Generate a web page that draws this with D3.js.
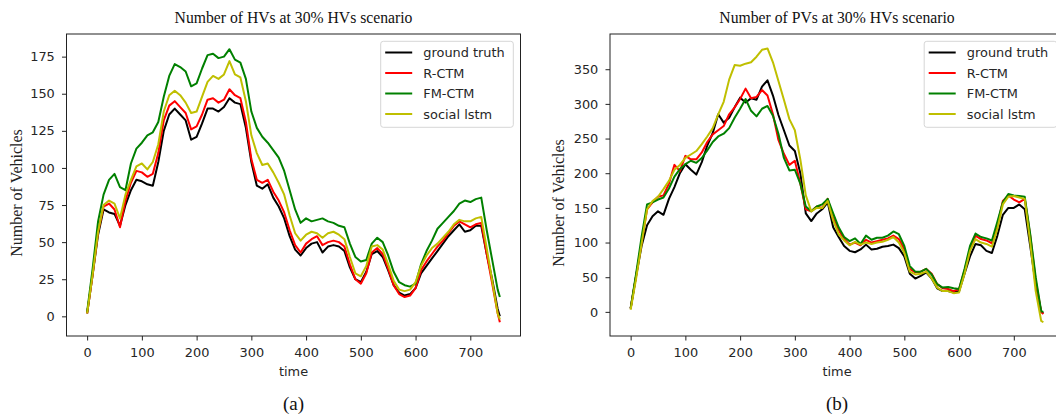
<!DOCTYPE html>
<html><head><meta charset="utf-8">
<script src="https://cdn.jsdelivr.net/npm/d3@7"></script>
<style>html,body{margin:0;padding:0;background:#fff;} svg{display:block;}</style>
</head><body><svg id="chart" width="1056" height="416"></svg>
<script>
// ---- data ----
const time = [0,10,20,30,40,50,60,70,80,90,100,110,120,130,140,150,160,170,180,190,200,210,220,230,240,250,260,270,280,290,300,310,320,330,340,350,360,370,380,390,400,410,420,430,440,450,460,470,480,490,500,510,520,530,540,550,560,570,580,590,600,610,620,630,640,650,660,670,680,690,700,710,720,730,740,750,754];

const seriesNames = ["ground truth", "R-CTM", "FM-CTM", "social lstm"];
const seriesColors = ["#000000", "#ff0000", "#008000", "#bfbf00"];

// Panel (a): Number of HVs
const hvTruth = [2,28,55,72,70,69,61,75,85,92, 91,89,88,104,125,136,140,136,132,119, 121,130,140,140,138,141,147,144,143,127, 104,88,86,89,80,74,66,54,45,41, 46,49,50,43,47,48,47,44,33,25, 23,30,42,44,40,31,21,16,14,15, 19,29,34,39,44,49,54,58,62,57, 58,61,61,42,25,5,0];
const hvRctm = [2,28,57,74,76,72,60,78,90,98, 97,94,96,110,132,142,145,141,137,126, 128,136,146,147,144,146,153,149,147,131, 106,92,90,92,84,78,70,58,48,43, 49,52,54,48,50,51,50,47,35,25, 22,29,43,46,42,32,21,15,13,14, 19,31,37,42,47,51,56,61,64,62, 60,62,63,42,22,2,-4];
const hvFmctm = [3,32,64,82,92,96,87,85,103,113, 117,122,124,131,148,162,170,168,165,155, 157,167,176,177,174,175,180,173,171,160, 138,127,121,117,112,107,98,85,72,63, 66,64,65,66,64,63,61,60,49,40, 37,38,49,53,50,41,30,23,21,20, 22,35,44,51,59,63,67,71,76,78, 77,79,80,58,38,18,13];
const hvLstm = [2,28,57,75,78,76,66,82,92,101, 103,99,104,116,138,149,152,149,144,137, 138,148,158,162,160,163,172,163,161,145, 122,110,102,103,97,90,82,68,56,51, 55,57,56,53,56,57,55,52,40,29, 27,34,47,48,45,35,24,18,17,18, 23,34,41,46,49,53,57,62,65,64, 64,66,67,46,24,2,-2];

// Panel (b): Number of PVs
const pvTruth = [5,52,95,125,138,145,140,163,180,200, 213,205,198,216,240,258,285,273,280,295, 309,302,308,306,325,334,312,284,262,240, 232,200,142,131,142,148,158,122,108,95, 88,86,90,97,90,91,94,95,97,92, 80,55,48,52,57,48,34,30,30,28, 30,55,80,98,96,88,85,110,140,150, 150,155,148,95,40,0,-2];
const pvRctm = [5,52,100,148,158,166,168,185,212,203, 225,220,220,230,245,256,262,268,285,295, 307,322,308,310,320,312,285,248,228,212, 218,185,148,145,152,150,163,135,118,105, 97,100,96,104,100,102,104,106,110,105, 90,62,57,58,62,55,40,34,33,30, 33,60,90,110,105,103,99,125,160,168, 162,158,163,110,45,0,-3];
const pvFmctm = [5,55,108,155,158,162,165,178,195,206, 213,218,215,222,233,245,253,257,265,280, 293,307,290,282,293,297,283,257,222,204, 205,185,152,145,152,155,163,142,122,108, 102,106,98,110,104,107,107,110,116,112, 95,66,58,58,62,54,40,35,36,34, 33,62,95,113,108,106,103,130,158,170, 168,167,166,112,50,1,0];
const pvLstm = [3,48,98,148,160,166,177,189,205,212, 222,227,232,242,253,265,285,303,335,356, 355,358,360,368,378,380,360,333,306,278, 262,220,168,145,150,150,160,132,112,103, 96,101,97,100,98,100,101,104,108,100, 85,58,54,55,58,48,35,30,30,27, 28,55,88,105,100,98,94,120,155,166, 167,165,163,100,30,-13,-15];

const xTicks = [0,100,200,300,400,500,600,700];
const hvYTicks = [0,25,50,75,100,125,150,175];
const pvYTicks = [0,50,100,150,200,250,300,350];

const titles = ["Number of HVs at 30% HVs scenario", "Number of PVs at 30% HVs scenario"];
const yLabel = "Number of Vehicles";
const xLabel = "time";
const captions = ["(a)", "(b)"];

// ---- drawing ----
const svg = d3.select("#chart");
svg.append("rect").attr("width",1056).attr("height",416).attr("fill","#fff");

const SANS = "'DejaVu Sans', sans-serif";
const SERIF = "'Liberation Serif', 'Times New Roman', serif";
const TOP = 34, BOTTOM = 336, W = 454;

function panel(opt) {
  const g = svg.append("g");
  const x = d3.scaleLinear().domain([-37.7, 791.7]).range([opt.left, opt.left + W]);
  const y = d3.scaleLinear().domain(opt.yDomain).range([BOTTOM, TOP]);

  const line = d3.line().x((d,i) => x(time[i])).y(d => y(d));
  opt.series.forEach((s, k) => {
    g.append("path").attr("d", line(s)).attr("fill","none")
      .attr("stroke", seriesColors[k]).attr("stroke-width", 2)
      .attr("stroke-linejoin","round");
  });

  // frame
  g.append("rect").attr("x", opt.left).attr("y", TOP).attr("width", W).attr("height", BOTTOM - TOP)
    .attr("fill","none").attr("stroke","#222").attr("stroke-width",1);

  const ax = g.append("g").attr("transform",`translate(0,${BOTTOM})`)
    .call(d3.axisBottom(x).tickValues(xTicks).tickSize(4.5).tickSizeOuter(0).tickPadding(7.3));
  const ay = g.append("g").attr("transform",`translate(${opt.left},0)`)
    .call(d3.axisLeft(y).tickValues(opt.yTicks).tickSize(4.5).tickSizeOuter(0).tickPadding(7.2));
  [ax, ay].forEach(a => {
    a.select(".domain").remove();
    a.selectAll("line").attr("stroke","#222").attr("stroke-width",1);
    a.selectAll("text").attr("font-family", SANS).attr("font-size","12.9px").attr("fill","#262626");
  });

  // title
  g.append("text").attr("x", opt.left + W/2).attr("y", 22.7).attr("text-anchor","middle")
    .attr("font-family", SERIF).attr("font-size","15.7px").attr("fill","#111").text(opt.title);
  // x label
  g.append("text").attr("x", opt.left + W/2).attr("y", 375.5).attr("text-anchor","middle")
    .attr("font-family", SANS).attr("font-size","12.9px").attr("fill","#262626").text(xLabel);
  // y label
  g.append("text").attr("transform",`translate(${opt.ylabX},${opt.ylabY}) rotate(-90)`)
    .attr("text-anchor","middle").attr("dy","0.35em")
    .attr("font-family", SERIF).attr("font-size","16px").attr("fill","#222").text(yLabel);
  // caption
  g.append("text").attr("x", opt.left + W/2).attr("y", 410).attr("text-anchor","middle")
    .attr("font-family", SERIF).attr("font-size","19px").attr("fill","#111").text(opt.caption);

  // legend
  const lx = opt.left + W - 7.2 - 132.6, ly = 41.3;
  const lg = g.append("g");
  lg.append("rect").attr("x", lx).attr("y", ly).attr("width",132.6).attr("height",86)
    .attr("rx",2.6).attr("fill","#fff").attr("fill-opacity",0.85)
    .attr("stroke","#d6d6d6").attr("stroke-width",1);
  seriesNames.forEach((nm, k) => {
    const cy = ly + 11.2 + k * 20.5;
    lg.append("line").attr("x1", lx + 4.5).attr("x2", lx + 31.5).attr("y1", cy).attr("y2", cy)
      .attr("stroke", seriesColors[k]).attr("stroke-width", 2);
    lg.append("text").attr("x", lx + 42.6).attr("y", cy).attr("dy","0.36em")
      .attr("font-family", SANS).attr("font-size","12.9px").attr("fill","#262626").text(nm);
  });
}

panel({left: 66.5, yDomain: [-13.25, 190.25], yTicks: hvYTicks,
  series: [hvTruth, hvRctm, hvFmctm, hvLstm], title: titles[0], caption: captions[0],
  ylabX: 16, ylabY: 193});
panel({left: 610, yDomain: [-34.8, 400.8], yTicks: pvYTicks,
  series: [pvTruth, pvRctm, pvFmctm, pvLstm], title: titles[1], caption: captions[1],
  ylabX: 558.3, ylabY: 203});
</script>
</body></html>
